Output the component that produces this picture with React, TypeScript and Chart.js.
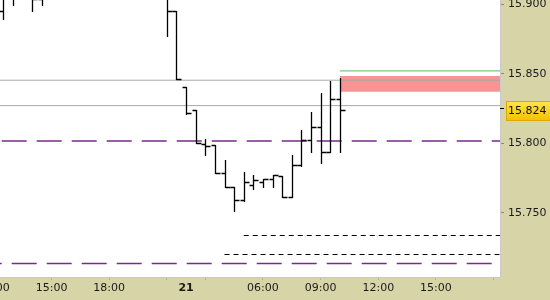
import React, { useEffect, useRef } from "react";
import { Chart, registerables } from "chart.js";

Chart.register(...registerables);

// ---- data ----
const BAR_INDEX = [
  0, 1, 2, 3, 4, 5, 6, 7, 8, 9, 10, 11, 12, 13, 14, 15, 16, 17,
  18, 19, 20, 21, 22, 23, 24, 25, 26, 27, 28, 29, 30, 31, 32, 33, 34, 35,
];
const OPENS = [
  15.8955, 15.906, 15.908, 15.91, 15.904, 15.909, 15.918, 15.922, 15.917, 15.92, 15.925, 15.921,
  15.916, 15.919, 15.915, 15.912, 15.914, 15.911, 15.8955, 15.8405, 15.8241, 15.7994, 15.799, 15.7785,
  15.7684, 15.7593, 15.7701, 15.7719, 15.7742, 15.7768, 15.7617, 15.7842, 15.8025, 15.8121, 15.7941, 15.8318,
];
const HIGHS = [
  15.912, 15.915, 15.918, 15.911, 15.913, 15.921, 15.926, 15.93, 15.924, 15.928, 15.932, 15.927,
  15.923, 15.926, 15.92, 15.918, 15.919, 15.915, 15.8955, 15.8405, 15.8241, 15.803, 15.799, 15.7881,
  15.7684, 15.7792, 15.7773, 15.7742, 15.7773, 15.7768, 15.7917, 15.8097, 15.8229, 15.8362, 15.8452, 15.847,
];
const LOWS = [
  15.8895, 15.8998, 15.905, 15.8955, 15.8996, 15.906, 15.912, 15.915, 15.91, 15.916, 15.919, 15.913,
  15.909, 15.914, 15.908, 15.907, 15.906, 15.8775, 15.8463, 15.8213, 15.8006, 15.7917, 15.7785, 15.7684,
  15.7514, 15.7586, 15.767, 15.7684, 15.7684, 15.7615, 15.7617, 15.7838, 15.7941, 15.7862, 15.7941, 15.7941,
];
const CLOSES = [
  15.906, 15.908, 15.91, 15.904, 15.909, 15.918, 15.922, 15.917, 15.92, 15.925, 15.921, 15.916,
  15.919, 15.915, 15.912, 15.914, 15.911, 15.8955, 15.8463, 15.822, 15.8006, 15.7984, 15.7785, 15.7684,
  15.7593, 15.7725, 15.7737, 15.7742, 15.7773, 15.7615, 15.7842, 15.8025, 15.8121, 15.7941, 15.8318, 15.824,
];

const LAST_PRICE = 15.824;

const X_TICK_POS = [-1, 5, 11, 17, 19, 21, 27, 33, 39, 45, 51];
const X_TICK_LABELS = ["12:00", "15:00", "18:00", "", "21", "", "06:00", "09:00", "12:00", "15:00", ""];
const DAY_TICK = 19;

const Y_TICKS = [15.75, 15.8, 15.85, 15.9];

// horizontal levels
const GRAY_LEVELS = [15.8455, 15.8272];
const PURPLE_LEVELS = [15.8017, 15.7134];
const BLACK_LEVELS = [15.7336, 15.7199];
const BLACK_LEVEL_START = [25, 23];
const GREEN_LEVEL = 15.8522;
const ZONE_TOP = 15.8486;
const ZONE_BOTTOM = 15.8372;
const ZONE_START = 35;

// ---- layout ----
const X_MIN = -0.364;
const X_MAX = 51.665;
const Y_MIN = 15.7037;
const Y_MAX = 15.9033;
const FONT = "'DejaVu Sans', Verdana, sans-serif";

const bgPlugin = {
  id: "bg",
  beforeDraw(chart: any) {
    const { ctx, chartArea } = chart;
    ctx.save();
    ctx.fillStyle = "#d7d4a8";
    ctx.fillRect(0, 0, chart.width, chart.height);
    ctx.fillStyle = "#ffffff";
    ctx.fillRect(chartArea.left, chartArea.top, chartArea.right - chartArea.left, chartArea.bottom - chartArea.top);
    ctx.restore();
  },
};

const ohlcPlugin = {
  id: "ohlc",
  afterDatasetsDraw(chart: any) {
    const { ctx, chartArea } = chart;
    const xs = chart.scales.x;
    const ys = chart.scales.y;
    ctx.save();
    ctx.beginPath();
    ctx.rect(chartArea.left, chartArea.top, chartArea.right - chartArea.left, chartArea.bottom - chartArea.top);
    ctx.clip();
    ctx.strokeStyle = "#000";
    ctx.lineWidth = 1.3;
    BAR_INDEX.forEach((idx, k) => {
      const px = Math.round(xs.getPixelForValue(idx)) + 0.5;
      const yh = Math.round(ys.getPixelForValue(HIGHS[k]));
      const yl = Math.round(ys.getPixelForValue(LOWS[k]));
      const yo = Math.round(ys.getPixelForValue(OPENS[k])) + 0.5;
      const yc = Math.round(ys.getPixelForValue(CLOSES[k])) + 0.5;
      ctx.beginPath();
      ctx.moveTo(px, yh);
      ctx.lineTo(px, yl + 1);
      ctx.moveTo(px - 4, yo);
      ctx.lineTo(px, yo);
      ctx.moveTo(px, yc);
      ctx.lineTo(px + 5, yc);
      ctx.stroke();
    });
    ctx.restore();
  },
};

const priceLabelPlugin = {
  id: "priceLabel",
  afterDraw(chart: any) {
    const { ctx, chartArea } = chart;
    const ys = chart.scales.y;
    const y = Math.round(ys.getPixelForValue(LAST_PRICE));
    ctx.save();
    // tick mark
    ctx.strokeStyle = "#000";
    ctx.lineWidth = 1;
    ctx.beginPath();
    ctx.moveTo(chartArea.right, y - 1.5);
    ctx.lineTo(chartArea.right + 4, y - 1.5);
    ctx.stroke();
    const x0 = chartArea.right + 6;
    const top = y - 9;
    const h = 20;
    const g = ctx.createLinearGradient(0, top, 0, top + h);
    g.addColorStop(0, "#ffe64a");
    g.addColorStop(1, "#f4c000");
    ctx.fillStyle = g;
    ctx.fillRect(x0, top, chart.width - x0, h);
    ctx.strokeStyle = "#e0a800";
    ctx.strokeRect(x0 + 0.5, top + 0.5, chart.width - x0, h - 1);
    ctx.fillStyle = "#111";
    ctx.font = `11px ${FONT}`;
    ctx.textBaseline = "middle";
    ctx.textAlign = "left";
    ctx.fillText(LAST_PRICE.toFixed(3), chartArea.right + 8, top + h / 2 + 0.5);
    ctx.restore();
  },
};

function hLine(y: number, x0: number, x1: number, extra: any) {
  return {
    type: "line",
    data: [
      { x: x0, y },
      { x: x1, y },
    ],
    pointRadius: 0,
    fill: false,
    ...extra,
  };
}

export default function App() {
  const ref = useRef<HTMLCanvasElement | null>(null);

  useEffect(() => {
    if (!ref.current) return;
    const datasets: any[] = [
      hLine(GRAY_LEVELS[0], X_MIN, X_MAX, { borderColor: "#a8a8a8", borderWidth: 1 }),
      hLine(GRAY_LEVELS[1], X_MIN, X_MAX, { borderColor: "#a8a8a8", borderWidth: 1 }),
      hLine(PURPLE_LEVELS[0], X_MIN, X_MAX, {
        borderColor: "#7a2a8c",
        borderWidth: 1.5,
        borderDash: [25, 10],
        borderDashOffset: 33.3,
      }),
      hLine(PURPLE_LEVELS[1], X_MIN, X_MAX, {
        borderColor: "#7a2a8c",
        borderWidth: 1.5,
        borderDash: [25, 10],
        borderDashOffset: 23.3,
      }),
      hLine(BLACK_LEVELS[0], BLACK_LEVEL_START[0], X_MAX, {
        borderColor: "#000",
        borderWidth: 1,
        borderDash: [5, 4],
      }),
      hLine(BLACK_LEVELS[1], BLACK_LEVEL_START[1], X_MAX, {
        borderColor: "#000",
        borderWidth: 1,
        borderDash: [5, 4],
      }),
      hLine(GREEN_LEVEL, ZONE_START, X_MAX, { borderColor: "#5cba5c", borderWidth: 1 }),
      hLine(ZONE_TOP, ZONE_START, X_MAX, { borderColor: "rgba(0,0,0,0)", borderWidth: 0 }),
      hLine(ZONE_BOTTOM, ZONE_START, X_MAX, {
        borderColor: "rgba(0,0,0,0)",
        borderWidth: 0,
        fill: "-1",
        backgroundColor: "#f99494",
      }),
    ];

    const chart = new Chart(ref.current, {
      type: "line",
      data: { datasets },
      options: {
        animation: false,
        responsive: false,
        maintainAspectRatio: false,
        events: [],
        layout: { padding: 0 },
        plugins: { legend: { display: false }, tooltip: { enabled: false } },
        scales: {
          x: {
            type: "linear",
            min: X_MIN,
            max: X_MAX,
            offset: false,
            border: { display: true, color: "#c9c9c9" },
            grid: {
              drawOnChartArea: false,
              drawTicks: true,
              tickLength: 3,
              tickColor: (ctx: any) =>
                ctx.tick && ctx.tick.value === DAY_TICK ? "rgba(0,0,0,0)" : "#b5b39a",
            },
            ticks: {
              autoSkip: false,
              maxRotation: 0,
              minRotation: 0,
              padding: 2,
              color: "#1a1a1a",
              font: (ctx: any) => ({
                family: FONT,
                size: 11,
                weight: ctx.tick && ctx.tick.value === DAY_TICK ? "bold" : "normal",
              }),
              callback: (v: any) => {
                const i = X_TICK_POS.indexOf(Number(v));
                return i >= 0 ? X_TICK_LABELS[i] : "";
              },
            },
            afterBuildTicks: (s: any) => {
              s.ticks = X_TICK_POS.map((v) => ({ value: v }));
            },
            afterFit: (s: any) => {
              s.height = 23;
              s.paddingLeft = 0;
              s.paddingRight = 0;
            },
          },
          y: {
            type: "linear",
            position: "right",
            min: Y_MIN,
            max: Y_MAX,
            border: { display: true, color: "#c9c9c9" },
            grid: {
              drawOnChartArea: false,
              drawTicks: true,
              tickLength: 4,
              tickColor: "#8a8a80",
            },
            ticks: {
              padding: 4,
              color: "#1a1a1a",
              font: { family: FONT, size: 11 },
              callback: (v: any) => Number(v).toFixed(3),
            },
            afterBuildTicks: (s: any) => {
              s.ticks = Y_TICKS.map((v) => ({ value: v }));
            },
            afterFit: (s: any) => {
              s.width = 50;
              s.paddingTop = 0;
              s.paddingBottom = 0;
            },
          },
        },
      } as any,
      plugins: [bgPlugin, ohlcPlugin, priceLabelPlugin],
    });
    return () => chart.destroy();
  }, []);

  return (
    <div style={{ position: "fixed", left: 0, top: 0, width: 550, height: 300 }}>
      <canvas ref={ref} width={550} height={300} style={{ display: "block", width: 550, height: 300 }} />
    </div>
  );
}
